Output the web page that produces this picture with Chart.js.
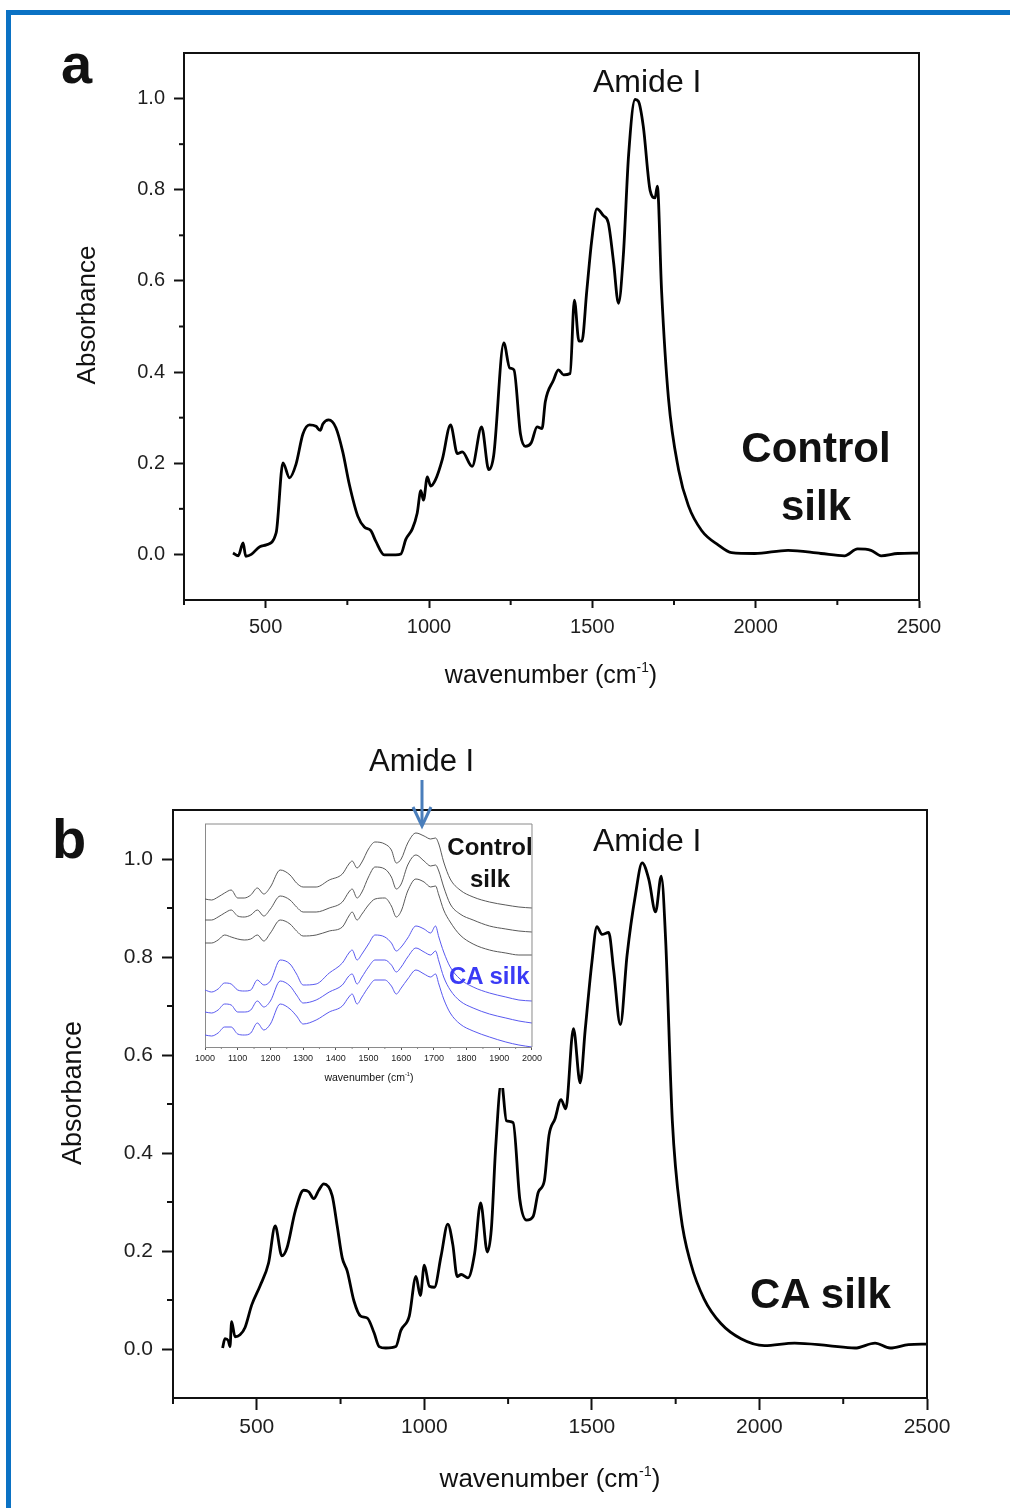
<!DOCTYPE html>
<html>
<head>
<meta charset="utf-8">
<script src="https://cdn.jsdelivr.net/npm/chart.js@4.4.1/dist/chart.umd.min.js"></script>
<style>
  body { margin: 0; background: #fff; }
  #page { position: relative; width: 1010px; height: 1508px; overflow: hidden; font-family: "Liberation Sans", Arial, sans-serif; }
  .frame { position: absolute; left: 6px; top: 10px; width: 1100px; height: 1600px; border-left: 5px solid #0b72c4; border-top: 5px solid #0b72c4; }
  canvas { position: absolute; }
  .txt { position: absolute; white-space: nowrap; color: #111; line-height: 1; }
  .bold { font-weight: bold; }
  sup { font-size: 0.55em; vertical-align: 0.75em; line-height: 0; }
</style>
</head>
<body>
<div id="page">
  <div class="frame"></div>
  <canvas id="chartA" width="1010" height="700" style="left:0;top:0;width:1010px;height:700px"></canvas>
  <canvas id="chartB" width="1010" height="808" style="left:0;top:700px;width:1010px;height:808px"></canvas>
  <canvas id="inset" width="355" height="273" style="left:190px;top:815px;width:355px;height:273px"></canvas>

  <div class="txt bold" style="left:61px;top:36px;font-size:56px">a</div>
  <div class="txt bold" style="left:52px;top:811px;font-size:56px">b</div>

  <div class="txt" style="left:86px;top:315px;font-size:26px;transform:translate(-50%,-50%) rotate(-90deg)">Absorbance</div>
  <div class="txt" style="left:72px;top:1093px;font-size:27px;transform:translate(-50%,-50%) rotate(-90deg)">Absorbance</div>

  <div class="txt" style="left:551px;top:674px;font-size:25px;transform:translate(-50%,-50%)">wavenumber (cm<sup>-1</sup>)</div>
  <div class="txt" style="left:550px;top:1478px;font-size:26px;transform:translate(-50%,-50%)">wavenumber (cm<sup>-1</sup>)</div>

  <div class="txt" style="left:593px;top:65px;font-size:32px">Amide I</div>
  <div class="txt" style="left:593px;top:824px;font-size:32px">Amide I</div>
  <div class="txt" style="left:369px;top:745px;font-size:31px">Amide I</div>

  <div class="txt bold" style="left:716px;top:419px;width:200px;text-align:center;font-size:42px;line-height:58px">Control<br>silk</div>
  <div class="txt bold" style="left:750px;top:1273px;font-size:42px">CA silk</div>

  <div class="txt bold" style="left:440px;top:831px;width:100px;text-align:center;font-size:24px;line-height:32px">Control<br>silk</div>
  <div class="txt bold" style="left:449px;top:964px;font-size:24px;color:#3a3af5">CA silk</div>
  <div class="txt" style="left:369px;top:1077px;font-size:10.5px;transform:translate(-50%,-50%)">wavenumber (cm<sup>-1</sup>)</div>

  <svg style="position:absolute;left:0;top:0" width="1010" height="1508">
    <line x1="422" y1="780" x2="422" y2="825" stroke="#4a7ebb" stroke-width="3"/>
    <polyline points="413,807 422,826 431,807" fill="none" stroke="#4a7ebb" stroke-width="3"/>
  </svg>
</div>

<script>
// panel a: control silk spectrum
const waveA = [400,416,431,439,456,482,502,532,553,573,593,614,634,654,667,675,693,715,736,756,782,802,822,837,863,898,914,929,949,964,975,983,995,1005,1020,1041,1066,1087,1102,1132,1161,1183,1198,1229,1247,1260,1280,1295,1313,1331,1346,1356,1381,1396,1412,1432,1445,1459,1468,1483,1498,1514,1534,1549,1565,1580,1595,1611,1631,1641,1656,1677,1692,1699,1712,1733,1764,1794,1835,1885,1926,1997,2099,2200,2272,2312,2353,2384,2435,2500];
const absA = [0.003,-0.003,0.025,-0.004,0.0,0.017,0.021,0.047,0.201,0.168,0.198,0.264,0.284,0.281,0.272,0.286,0.295,0.278,0.225,0.154,0.084,0.060,0.052,0.029,-0.001,-0.001,0.001,0.033,0.056,0.091,0.14,0.119,0.17,0.15,0.164,0.209,0.284,0.221,0.225,0.193,0.280,0.186,0.217,0.464,0.409,0.405,0.264,0.237,0.245,0.280,0.276,0.335,0.382,0.405,0.394,0.397,0.558,0.468,0.468,0.578,0.688,0.758,0.743,0.727,0.641,0.551,0.657,0.876,0.998,0.994,0.939,0.798,0.782,0.808,0.578,0.343,0.186,0.107,0.052,0.021,0.004,0.002,0.009,0.002,-0.003,0.012,0.009,-0.003,0.002,0.003];

// panel b: CA silk spectrum
const waveB = [398,405,415,420,425,435,450,465,485,510,535,555,575,590,615,640,655,670,685,700,725,740,755,770,790,810,830,850,865,885,915,930,955,975,988,1000,1015,1030,1050,1070,1085,1098,1110,1130,1150,1168,1188,1200,1213,1230,1245,1265,1285,1305,1325,1340,1358,1372,1390,1408,1422,1445,1465,1480,1500,1515,1530,1550,1565,1585,1605,1630,1650,1670,1690,1707,1720,1740,1765,1795,1835,1885,1945,2015,2105,2205,2285,2345,2390,2445,2500];
const absB = [0.002,0.021,0.017,0.005,0.056,0.025,0.029,0.044,0.090,0.129,0.175,0.251,0.19,0.206,0.282,0.324,0.321,0.307,0.324,0.337,0.313,0.251,0.186,0.159,0.098,0.067,0.063,0.033,0.005,0.002,0.005,0.038,0.067,0.148,0.109,0.171,0.128,0.126,0.19,0.255,0.213,0.148,0.152,0.145,0.195,0.298,0.198,0.245,0.413,0.545,0.466,0.462,0.305,0.263,0.271,0.320,0.343,0.436,0.470,0.509,0.49,0.654,0.543,0.651,0.789,0.862,0.846,0.850,0.773,0.662,0.804,0.927,0.992,0.958,0.892,0.965,0.836,0.466,0.275,0.175,0.102,0.052,0.021,0.007,0.012,0.007,0.002,0.012,0.002,0.009,0.01];

// inset: stacked spectra, arbitrary offset units
const insetWave = [1000,1020,1040,1060,1080,1100,1120,1140,1160,1180,1200,1230,1260,1280,1300,1340,1380,1420,1440,1450,1465,1480,1500,1520,1550,1570,1585,1600,1620,1645,1670,1690,1705,1715,1730,1750,1780,1820,1870,1920,1960,2000];
const control1 = [148,147,150,154,157,149,149,152,159,153,160,177,172,164,160,160,167,173,183,186,179,185,198,205,203,197,184,188,204,214,211,208,209,203,185,168,157,150,145,142,140,139];
const control2 = [127,127,130,134,137,131,130,132,137,131,138,151,147,140,135,135,139,145,155,158,149,155,170,180,178,170,158,163,182,192,186,181,182,176,160,143,133,127,121,118,116,115];
const control3 = [104,104,107,112,110,108,107,108,112,106,114,127,123,116,111,112,116,120,131,135,127,133,142,148,149,141,130,136,156,168,165,160,161,152,137,125,112,103,97,94,92,92];
const ca1 = [57,55,58,64,63,57,56,57,67,62,66,87,83,73,62,63,74,84,94,97,87,93,103,112,110,104,96,100,109,121,118,114,121,110,95,80,68,60,54,50,47,46];
const ca2 = [35,34,37,43,42,35,35,37,46,40,46,66,61,52,44,47,55,62,71,73,63,70,80,87,87,82,75,80,90,99,95,92,96,86,70,57,46,39,33,29,26,24];
const ca3 = [12,11,14,20,20,13,12,14,24,17,23,43,38,31,23,27,35,41,50,53,43,50,60,67,67,61,53,59,68,77,73,70,73,63,48,34,23,16,10,5,2,0];

// tick values
const xMajor = [500, 1000, 1500, 2000, 2500];
const xMinor = [250, 750, 1250, 1750, 2250];
const yMajor = [0, 0.2, 0.4, 0.6, 0.8, 1.0];
const yMinor = [0.1, 0.3, 0.5, 0.7, 0.9];
const insetMajor = [1000, 1100, 1200, 1300, 1400, 1500, 1600, 1700, 1800, 1900, 2000];
const insetMinor = [1050, 1150, 1250, 1350, 1450, 1550, 1650, 1750, 1850, 1950];

const FONT = '"Liberation Sans", Arial, sans-serif';

const toPoints = (xs, ys) => xs.map((x, i) => ({ x, y: ys[i] }));

// top/right frame lines + short minor ticks
const framePlugin = {
  id: 'frame',
  beforeDraw(chart, args, opts) {
    if (opts.background) {
      const c = chart.ctx;
      c.save();
      c.fillStyle = opts.background;
      c.fillRect(0, 0, chart.width, chart.height);
      c.restore();
    }
  },
  afterDraw(chart, args, opts) {
    const { ctx, chartArea: a, scales } = chart;
    ctx.save();
    ctx.strokeStyle = opts.color;
    ctx.lineWidth = opts.width;
    ctx.beginPath();
    ctx.moveTo(a.left, a.top);
    ctx.lineTo(a.right, a.top);
    ctx.lineTo(a.right, a.bottom);
    ctx.stroke();
    (opts.xMinor || []).forEach(v => {
      const px = scales.x.getPixelForValue(v);
      ctx.beginPath();
      ctx.moveTo(px, a.bottom);
      ctx.lineTo(px, a.bottom + opts.minorLen);
      ctx.stroke();
    });
    (opts.yMinor || []).forEach(v => {
      const py = scales.y.getPixelForValue(v);
      ctx.beginPath();
      ctx.moveTo(a.left, py);
      ctx.lineTo(a.left - opts.minorLen, py);
      ctx.stroke();
    });
    ctx.restore();
  }
};

function mainChart(id, xs, ys, g) {
  return new Chart(document.getElementById(id), {
    type: 'line',
    data: {
      datasets: [{
        data: toPoints(xs, ys),
        borderColor: '#000',
        borderWidth: 2.8,
        pointRadius: 0,
        cubicInterpolationMode: 'monotone',
        borderJoinStyle: 'round'
      }]
    },
    plugins: [framePlugin],
    options: {
      responsive: false,
      animation: false,
      events: [],
      layout: { padding: { left: 0, top: g.top, right: g.right, bottom: 0 } },
      plugins: {
        legend: { display: false },
        tooltip: { enabled: false },
        frame: { color: '#111', width: 2, minorLen: g.minorLen, xMinor: xMinor, yMinor: yMinor }
      },
      scales: {
        x: {
          type: 'linear', min: 250, max: 2500,
          afterBuildTicks: s => { s.ticks = xMajor.map(v => ({ value: v })); },
          afterFit: s => { s.height = g.xHeight; },
          border: { color: '#111', width: 2 },
          grid: { drawOnChartArea: false, tickLength: g.xTick, tickColor: '#111', tickWidth: 2 },
          ticks: { color: '#1e1e1e', font: { family: FONT, size: g.font }, padding: g.xPad, maxRotation: 0, callback: v => String(v) }
        },
        y: {
          type: 'linear', min: -0.1, max: 1.1,
          afterBuildTicks: s => { s.ticks = yMajor.map(v => ({ value: v })); },
          afterFit: s => { s.width = g.left; },
          border: { color: '#111', width: 2 },
          grid: { drawOnChartArea: false, tickLength: g.yTick, tickColor: '#111', tickWidth: 2 },
          ticks: { color: '#1e1e1e', font: { family: FONT, size: g.font }, padding: 9, callback: v => v.toFixed(1) }
        }
      }
    }
  });
}

mainChart('chartA', waveA, absA, { top: 53, right: 91, left: 184, xHeight: 100, font: 20, xTick: 8, xPad: 7, yTick: 10, minorLen: 5 });
mainChart('chartB', waveB, absB, { top: 110, right: 83, left: 173, xHeight: 110, font: 21, xTick: 12, xPad: 5, yTick: 11, minorLen: 6 });

const grayLine = '#5a5a5a';
const blueLine = '#5a5af0';
const insetSeries = [control1, control2, control3, ca1, ca2, ca3];
const insetColors = [grayLine, grayLine, grayLine, blueLine, blueLine, blueLine];

new Chart(document.getElementById('inset'), {
  type: 'line',
  data: {
    datasets: insetSeries.map((s, i) => ({
      data: toPoints(insetWave, s),
      borderColor: insetColors[i],
      borderWidth: 1,
      pointRadius: 0,
      cubicInterpolationMode: 'monotone'
    }))
  },
  plugins: [framePlugin],
  options: {
    responsive: false,
    animation: false,
    events: [],
    layout: { padding: { left: 0, top: 9, right: 11, bottom: 0 } },
    plugins: {
      legend: { display: false },
      tooltip: { enabled: false },
      frame: { background: '#fff', color: '#8a8a8a', width: 1, minorLen: 2, xMinor: insetMinor }
    },
    scales: {
      x: {
        type: 'linear', min: 1000, max: 2000,
        afterBuildTicks: s => { s.ticks = insetMajor.map(v => ({ value: v })); },
        afterFit: s => { s.height = 41; },
        border: { color: '#8a8a8a', width: 1 },
        grid: { drawOnChartArea: false, tickLength: 3, tickColor: '#555' },
        ticks: { color: '#222', font: { family: FONT, size: 9 }, padding: 3, maxRotation: 0, autoSkip: false, callback: v => String(v) }
      },
      y: {
        type: 'linear', min: 0, max: 223,
        afterFit: s => { s.width = 15; },
        border: { color: '#8a8a8a', width: 1 },
        grid: { display: false },
        ticks: { display: false }
      }
    }
  }
});
</script>
</body>
</html>
